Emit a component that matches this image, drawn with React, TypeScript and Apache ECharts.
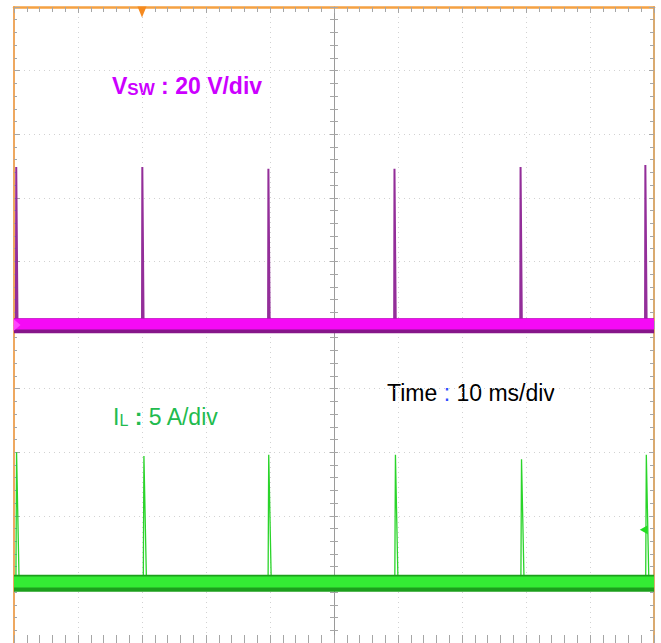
import React, { useEffect, useRef } from 'react';
import * as echarts from 'echarts';

// ---- Scope settings ----
const timeRangeMs = [0, 100]; // 10 ms/div, 10 divisions
const timePerDivMs = 10;
const vswRangeV = [-100, 100]; // 20 V/div
const vswPerDivV = 20;
const ilRangeA = [-5, 45]; // 5 A/div
const ilPerDivA = 5;
const centerTimeRange = [-50, 50];

// ---- Traces ----
const vswBaselineV = 0;
const vswSpikeTimesMs = [0.3, 20.0, 39.7, 59.4, 79.1, 98.6];
const vswSpikePeaksV = [49.7, 49.7, 49.1, 49.1, 49.7, 50.3];

const ilBaselineA = -0.25;
const ilSpikeTimesMs = [0.3, 20.2, 39.7, 59.5, 79.2, 98.7];
const ilSpikePeaksA = [10.0, 9.7, 9.8, 9.8, 9.45, 9.8];

// markers
const triggerTimeMs = 20;
const triggerLevelA = 3.9;
const triggerMarkerTimeMs = 98.4;

function spikeTrace(times: number[], peaks: number[], base: number, rise: number, fall: number) {
  const pts: number[][] = [[timeRangeMs[0], base]];
  times.forEach((t, i) => {
    pts.push([t, base], [t + rise, peaks[i]], [t + rise + fall, base]);
  });
  pts.push([timeRangeMs[1], base]);
  return pts;
}

const TICK = '#a6a6a6';
const GRIDLINE = '#d2d2d2';
const FONT = 'Liberation Sans, Arial, sans-serif';

function App() {
  const ref = useRef<HTMLDivElement>(null);
  useEffect(() => {
    const chart = echarts.init(ref.current!, null, { renderer: 'svg' });
    const noLabel = { show: false };
    const option: any = {
      animation: false,
      backgroundColor: '#ffffff',
      grid: { left: 14, top: 7, width: 640, height: 640, containLabel: false },
      xAxis: [
        {
          type: 'value', min: timeRangeMs[0], max: timeRangeMs[1], interval: timePerDivMs, position: 'top',
          axisLine: { show: true, onZero: false, lineStyle: { color: '#f5a142', width: 2.5 } },
          axisTick: { show: true, inside: true, length: 6, lineStyle: { color: TICK } },
          minorTick: { show: true, splitNumber: 5, length: 5, lineStyle: { color: TICK } },
          splitLine: { show: true, lineStyle: { color: GRIDLINE, type: [1, 4], width: 1 } },
          axisLabel: noLabel,
        },
        {
          type: 'value', min: timeRangeMs[0], max: timeRangeMs[1], interval: timePerDivMs, position: 'bottom',
          axisLine: { show: false, onZero: false },
          axisTick: { show: true, inside: true, length: 8, lineStyle: { color: TICK } },
          minorTick: { show: true, splitNumber: 5, length: 8, lineStyle: { color: TICK } },
          splitLine: { show: false },
          axisLabel: noLabel,
        },
        {
          type: 'value', min: centerTimeRange[0], max: centerTimeRange[1], interval: timePerDivMs, position: 'bottom',
          axisLine: { show: true, onZero: true, onZeroAxisIndex: 0, lineStyle: { color: '#9a9a9a', width: 1 } },
          axisTick: { show: true, inside: true, length: 4, lineStyle: { color: TICK } },
          minorTick: { show: true, splitNumber: 5, length: 4, lineStyle: { color: TICK } },
          splitLine: { show: false },
          axisLabel: noLabel,
        },
        {
          type: 'value', min: centerTimeRange[0], max: centerTimeRange[1], interval: timePerDivMs, position: 'bottom',
          axisLine: { show: false, onZero: true, onZeroAxisIndex: 0 },
          axisTick: { show: true, inside: false, length: 4, lineStyle: { color: TICK } },
          minorTick: { show: true, splitNumber: 5, length: 4, lineStyle: { color: TICK } },
          splitLine: { show: false },
          axisLabel: noLabel,
        },
      ],
      yAxis: [
        {
          type: 'value', min: vswRangeV[0], max: vswRangeV[1], interval: vswPerDivV, position: 'left',
          axisLine: { show: true, onZero: false, lineStyle: { color: '#eea860', width: 2 } },
          axisTick: { show: true, inside: true, length: 6, lineStyle: { color: TICK } },
          minorTick: { show: true, splitNumber: 5, length: 3, lineStyle: { color: TICK } },
          splitLine: { show: true, lineStyle: { color: GRIDLINE, type: [1, 4], width: 1 } },
          axisLabel: noLabel,
        },
        {
          type: 'value', min: vswRangeV[0], max: vswRangeV[1], interval: vswPerDivV, position: 'right',
          axisLine: { show: true, onZero: false, lineStyle: { color: '#d9aa70', width: 2 } },
          axisTick: { show: true, inside: true, length: 5, lineStyle: { color: TICK } },
          minorTick: { show: true, splitNumber: 5, length: 4, lineStyle: { color: TICK } },
          splitLine: { show: false },
          axisLabel: noLabel,
        },
        {
          type: 'value', min: vswRangeV[0], max: vswRangeV[1], interval: vswPerDivV, position: 'left',
          axisLine: { show: true, onZero: true, onZeroAxisIndex: 2, lineStyle: { color: '#9a9a9a', width: 1 } },
          axisTick: { show: true, inside: true, length: 4, lineStyle: { color: TICK } },
          minorTick: { show: true, splitNumber: 5, length: 4, lineStyle: { color: TICK } },
          splitLine: { show: false },
          axisLabel: noLabel,
        },
        {
          type: 'value', min: vswRangeV[0], max: vswRangeV[1], interval: vswPerDivV, position: 'left',
          axisLine: { show: false, onZero: true, onZeroAxisIndex: 2 },
          axisTick: { show: true, inside: false, length: 4, lineStyle: { color: TICK } },
          minorTick: { show: true, splitNumber: 5, length: 4, lineStyle: { color: TICK } },
          splitLine: { show: false },
          axisLabel: noLabel,
        },
        {
          type: 'value', min: ilRangeA[0], max: ilRangeA[1], interval: ilPerDivA, show: false,
          axisLine: { onZero: false },
        },
      ],
      series: [
        {
          name: 'VSW spikes', type: 'line', xAxisIndex: 0, yAxisIndex: 0, symbol: 'none', silent: true,
          data: spikeTrace(vswSpikeTimesMs, vswSpikePeaksV, vswBaselineV, 0.05, 0.2),
          lineStyle: { color: '#932e99', width: 2 },
        },
        {
          name: 'VSW band edge', type: 'line', xAxisIndex: 0, yAxisIndex: 0, symbol: 'none', silent: true,
          data: [[timeRangeMs[0], vswBaselineV - 0.2], [timeRangeMs[1], vswBaselineV - 0.2]],
          lineStyle: { color: '#86168a', width: 15 },
          markPoint: {
            silent: true, symbol: 'triangle', symbolSize: [12, 7], symbolRotate: -90, symbolOffset: [3, 0],
            itemStyle: { color: '#ff44ff' }, label: { show: false },
            data: [{ coord: [timeRangeMs[0], vswBaselineV] }],
          },
        },
        {
          name: 'VSW', type: 'line', xAxisIndex: 0, yAxisIndex: 0, symbol: 'none', silent: true,
          data: [[timeRangeMs[0], vswBaselineV + 0.3], [timeRangeMs[1], vswBaselineV + 0.3]],
          lineStyle: { color: '#f50af5', width: 11 },
          markPoint: {
            silent: true, symbol: 'triangle', symbolSize: [9, 11], symbolRotate: 180, symbolOffset: [0, 5],
            itemStyle: { color: '#f58a1f' }, label: { show: false },
            data: [{ coord: [triggerTimeMs, vswRangeV[1]] }],
          },
        },
        {
          name: 'IL spikes', type: 'line', xAxisIndex: 0, yAxisIndex: 4, symbol: 'none', silent: true,
          data: spikeTrace(ilSpikeTimesMs, ilSpikePeaksA, ilBaselineA, 0.1, 0.4),
          lineStyle: { color: '#2ad42a', width: 1.3 },
        },
        {
          name: 'IL band edge', type: 'line', xAxisIndex: 0, yAxisIndex: 4, symbol: 'none', silent: true,
          data: [[timeRangeMs[0], ilBaselineA - 0.05], [timeRangeMs[1], ilBaselineA - 0.05]],
          lineStyle: { color: '#1c9f1c', width: 17 },
        },
        {
          name: 'IL', type: 'line', xAxisIndex: 0, yAxisIndex: 4, symbol: 'none', silent: true,
          data: [[timeRangeMs[0], ilBaselineA + 0.05], [timeRangeMs[1], ilBaselineA + 0.05]],
          lineStyle: { color: '#34ec34', width: 11 },
          markPoint: {
            silent: true, symbol: 'triangle', symbolSize: [9, 8], symbolRotate: 90, symbolOffset: [0, 0],
            itemStyle: { color: '#22dd22' }, label: { show: false },
            data: [{ coord: [triggerMarkerTimeMs, triggerLevelA] }],
          },
        },
      ],
      graphic: [
        {
          type: 'text', x: 112, y: 86, silent: true,
          style: {
            text: '{v|V}{s|SW}{v| : 20 V/div}',
            verticalAlign: 'middle',
            rich: {
              v: { fontSize: 23, fontWeight: 'bold', fontFamily: FONT, fill: '#cc00ff' },
              s: { fontSize: 17, fontWeight: 'bold', fontFamily: FONT, fill: '#cc00ff', verticalAlign: 'bottom' },
            },
          },
        },
        {
          type: 'text', x: 387, y: 393, silent: true,
          style: {
            text: '{k|Time }{b|:}{k| 10 ms/div}',
            verticalAlign: 'middle',
            rich: {
              k: { fontSize: 23, fontFamily: FONT, fill: '#000000' },
              b: { fontSize: 23, fontFamily: FONT, fill: '#2e4dff' },
            },
          },
        },
        {
          type: 'text', x: 113, y: 417, silent: true,
          style: {
            text: '{i|I}{l|L}{c| : }{i|5 A/div}',
            verticalAlign: 'middle',
            rich: {
              i: { fontSize: 23, fontFamily: FONT, fill: '#22bb4e' },
              l: { fontSize: 16, fontFamily: FONT, fill: '#22bb4e', verticalAlign: 'bottom' },
              c: { fontSize: 23, fontWeight: 'bold', fontFamily: FONT, fill: '#22bb4e' },
            },
          },
        },
      ],
    };
    chart.setOption(option);
    return () => chart.dispose();
  }, []);
  return (
    <div
      ref={ref}
      style={{ position: 'fixed', left: 0, top: 0, width: 661, height: 643, background: '#ffffff' }}
    />
  );
}

export default App;
